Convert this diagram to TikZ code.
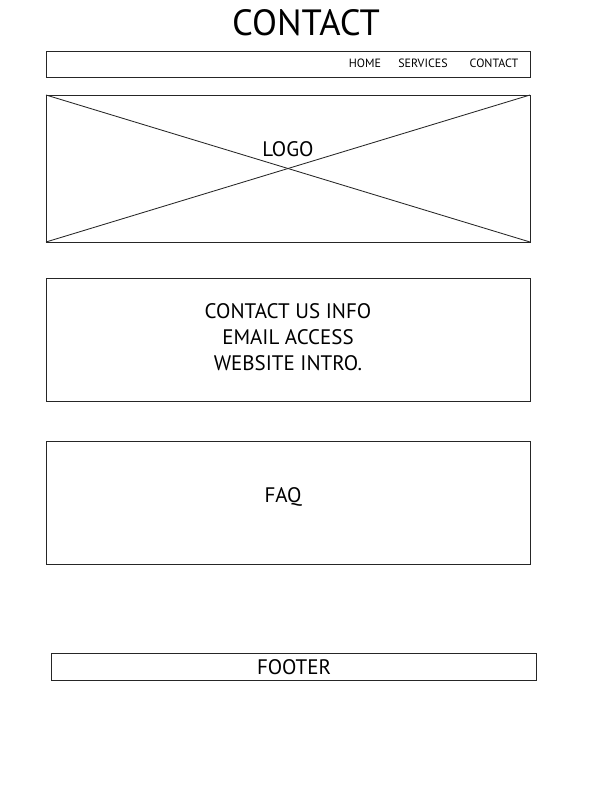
\documentclass[tikz,border=0pt]{standalone}
\usepackage{fontspec}
\setmainfont{PT Sans}
\begin{document}
\begin{tikzpicture}[x=1pt,y=-1pt,
  box/.style={draw=black!85,line width=0.85pt},
  navtxt/.style={font=\fontsize{12}{14}\selectfont,inner sep=0pt,anchor=center},
  bigtxt/.style={font=\fontsize{21}{26}\selectfont,inner sep=0pt,align=center}]
\useasboundingbox (0,0) rectangle (612,792);
\node[inner sep=0pt,font=\fontsize{36.5}{40}\selectfont] (title) at (306,23) {CONTACT};
% nav
\draw[box] (46,51) rectangle (530,77);
\node[navtxt] (home) at (365,63.5) {HOME};
\node[navtxt] (services) at (423,63.5) {SERVICES};
\node[navtxt] (contact) at (494,63.5) {CONTACT};
% logo
\draw[box] (46,95) rectangle (530,242);
\draw[box] (46,95) -- (530,242);
\draw[box] (46,242) -- (530,95);
\node[bigtxt] (logo) at (288,149) {LOGO};
% contact info
\draw[box] (46,278) rectangle (530,401);
\node[bigtxt] (info) at (288,337) {CONTACT US INFO\\EMAIL ACCESS\\WEBSITE INTRO.};
% faq
\draw[box] (46,441) rectangle (530,564);
\node[bigtxt] (faq) at (283,496.5) {FAQ};
% footer
\draw[box] (51,653) rectangle (536,680);
\node[bigtxt] (footer) at (294,667) {FOOTER};
\end{tikzpicture}
\end{document}
